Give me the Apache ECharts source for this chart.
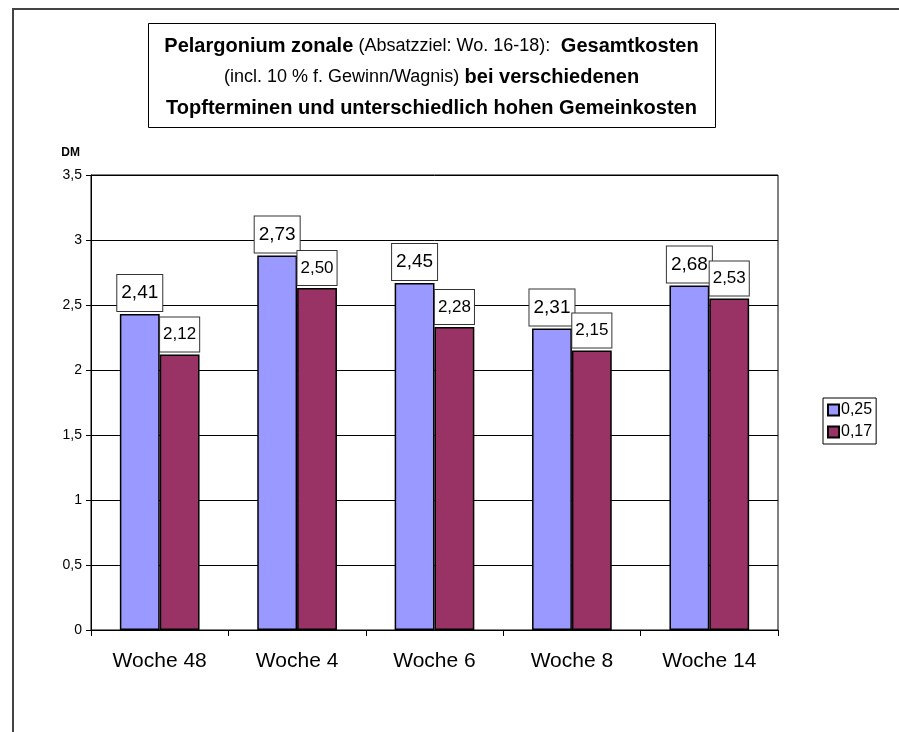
<!DOCTYPE html>
<html>
<head>
<meta charset="utf-8">
<script src="https://cdn.jsdelivr.net/npm/echarts@6/dist/echarts.min.js"></script>
<style>
  html, body { margin: 0; padding: 0; background: #fff; }
  #main { width: 899px; height: 732px; }
</style>
</head>
<body>
<div id="main"></div>
<script>
// Kategorien (Topftermine)
var categories = ['Woche 48', 'Woche 4', 'Woche 6', 'Woche 8', 'Woche 14'];
// Balkenhoehen wie im Bild gezeichnet
var bars025 = [2.43, 2.88, 2.67, 2.32, 2.65];
var bars017 = [2.12, 2.63, 2.33, 2.15, 2.55];
// Beschriftungen der Balken (so wie im Original)
var labels025 = ['2,41', '2,73', '2,45', '2,31', '2,68'];
var labels017 = ['2,12', '2,50', '2,28', '2,15', '2,53'];
var seriesNames = ['0,25', '0,17'];
var yTicks = [0, 0.5, 1, 1.5, 2, 2.5, 3, 3.5];

var font = '"Liberation Sans", Arial, sans-serif';
var myChart = echarts.init(document.getElementById('main'));

var option = {
  backgroundColor: '#fff',
  animation: false,
  textStyle: { fontFamily: font },
  grid: {
    left: 91,
    right: 121,
    top: 175,
    bottom: 102,
    show: true,
    borderColor: '#000',
    borderWidth: 1
  },
  legend: {
    orient: 'vertical',
    left: 823,
    top: 398,
    itemWidth: 11,
    itemHeight: 11,
    itemGap: 6,
    padding: [4, 4, 4, 4],
    borderColor: '#000',
    borderWidth: 1,
    backgroundColor: '#fff',
    icon: 'rect',
    textStyle: { fontSize: 16, color: '#000', fontFamily: font, padding: [0, 0, 0, -3] },
    data: seriesNames
  },
  xAxis: {
    type: 'category',
    data: categories,
    axisLine: { lineStyle: { color: '#000', width: 1 } },
    axisTick: { show: true, length: 6, lineStyle: { color: '#000' } },
    axisLabel: { fontSize: 21, color: '#000', margin: 21, fontFamily: font }
  },
  yAxis: {
    type: 'value',
    min: 0,
    max: 3.5,
    interval: 0.5,
    name: 'DM',
    nameLocation: 'end',
    nameGap: 16,
    nameTextStyle: { fontSize: 12, fontWeight: 'bold', color: '#000', align: 'right', padding: [0, 11, 0, 0] },
    axisLine: { show: true, lineStyle: { color: '#000', width: 1 } },
    axisTick: { show: true, length: 5, lineStyle: { color: '#000' } },
    axisLabel: {
      fontSize: 14,
      color: '#000',
      margin: 9,
      formatter: function (v) {
        return yTicks.indexOf(v) >= 0 ? String(v).replace('.', ',') : '';
      }
    },
    splitLine: { show: true, lineStyle: { color: '#000', width: 1 } }
  },
  series: [
    {
      name: seriesNames[0],
      type: 'bar',
      data: bars025,
      barGap: '0%',
      barCategoryGap: '42%',
      itemStyle: { color: '#9999FF', borderColor: '#000', borderWidth: 1.5 },
      label: {
        show: true,
        position: 'top',
        distance: 3,
        fontSize: 19,
        lineHeight: 22,
        color: '#000',
        backgroundColor: '#fff',
        borderColor: '#333',
        borderWidth: 1,
        padding: [7, 4, 7, 4],
        formatter: function (p) { return labels025[p.dataIndex]; }
      }
    },
    {
      name: seriesNames[1],
      type: 'bar',
      data: bars017,
      itemStyle: { color: '#993366', borderColor: '#000', borderWidth: 1.5 },
      label: {
        show: true,
        position: 'top',
        distance: 3,
        fontSize: 17,
        lineHeight: 20,
        color: '#000',
        backgroundColor: '#fff',
        borderColor: '#333',
        borderWidth: 1,
        padding: [7, 3, 7, 3],
        formatter: function (p) { return labels017[p.dataIndex]; }
      }
    }
  ],
  graphic: [
    {
      type: 'rect',
      shape: { x: 13, y: 9, width: 920, height: 760 },
      style: { fill: 'none', stroke: '#444', lineWidth: 2 },
      silent: true
    },
    {
      type: 'rect',
      shape: { x: 148.5, y: 23.5, width: 567, height: 104 },
      style: { fill: '#fff', stroke: '#000', lineWidth: 1 },
      silent: true
    },
    {
      type: 'text',
      x: 431.5,
      y: 77,
      style: {
        text: '{b|Pelargonium zonale} {n|(Absatzziel: Wo. 16-18):}  {b|Gesamtkosten}\n' +
              '{n|(incl. 10 % f. Gewinn/Wagnis)} {b|bei verschiedenen}\n' +
              '{b|Topfterminen und unterschiedlich hohen Gemeinkosten}',
        align: 'center',
        verticalAlign: 'middle',
        font: '19px ' + font,
        fill: '#000',
        lineHeight: 31,
        rich: {
          b: { fontWeight: 'bold', fontSize: 20, lineHeight: 31, fontFamily: font },
          n: { fontWeight: 'normal', fontSize: 18, lineHeight: 31, fontFamily: font }
        }
      },
      silent: true
    }
  ]
};

option && myChart.setOption(option);
</script>
</body>
</html>
